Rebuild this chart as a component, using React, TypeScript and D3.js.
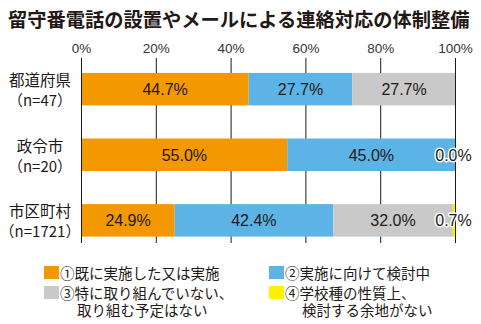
import React from "react";
import * as d3 from "d3";

const title = "留守番電話の設置やメールによる連絡対応の体制整備";
const categories = ["都道府県", "政令市", "市区町村"];
const counts = ["（n=47）", "（n=20）", "（n=1721）"];
const s1 = [44.7, 55.0, 24.9];
const s2 = [27.7, 45.0, 42.4];
const s3 = [27.7, 0, 32.0];
const s4 = [0, 0, 0.7];
const ticks = [0, 20, 40, 60, 80, 100];
const seriesNames = [
  ["①既に実施した又は実施"],
  ["②実施に向けて検討中"],
  ["③特に取り組んでいない、", "取り組む予定はない"],
  ["④学校種の性質上、", "検討する余地がない"],
];
const colors = ["#F39800", "#5BB4E5", "#C9C9C9", "#FFF100"];

const JP = "'Noto Sans CJK JP', sans-serif";
const NUM = "'Liberation Sans', Arial, sans-serif";
const NARROW = "'Liberation Sans Narrow', 'Liberation Sans', sans-serif";

export default function App() {
  const W = 481, H = 324;
  const x = d3.scaleLinear().domain([0, 100]).range([81.5, 455.5]);
  const y = d3.scaleBand().domain(categories).range([56.5, 253]).paddingInner(0.505).paddingOuter(0.25);
  const series = [s1, s2, s3, s4];

  const rows = categories.map((c, i) => {
    let acc = 0;
    const segs = series.map((s, k) => {
      const v = s[i];
      const seg = { k, x0: acc, x1: acc + v, v };
      acc += v;
      return seg;
    });
    return { c, i, segs };
  });

  const gridTop = 58, gridBot = 243;

  const endLabels: { i: number; v: number }[] = [];
  rows.forEach((r) => {
    if (s3[r.i] === 0) endLabels.push({ i: r.i, v: s3[r.i] });
    else if (s4[r.i] > 0) endLabels.push({ i: r.i, v: s4[r.i] });
  });

  return (
    <svg width={W} height={H} style={{ position: "absolute", left: 0, top: 0, background: "#fff" }}>
      <text x={8} y={27} fontFamily={JP} fontWeight={700} fontSize={19.25} fill="#231815">{title}</text>
      {ticks.map((t) => (
        <text key={t} x={x(t)} y={53} textAnchor="middle" fontFamily={NARROW} fontSize={13.5} fill="#333">{t}%</text>
      ))}
      {ticks.map((t) => (
        <line key={"g" + t} x1={x(t)} x2={x(t)} y1={gridTop} y2={gridBot} stroke="#231815" strokeWidth={1} />
      ))}
      {rows.map((r) =>
        r.segs.filter((s) => s.v > 0).map((s) => (
          <rect key={r.c + s.k} x={x(s.x0)} y={y(r.c)!} width={x(s.x1) - x(s.x0)} height={y.bandwidth()} fill={colors[s.k]} />
        ))
      )}
      <line x1={x(0)} x2={x(0)} y1={gridTop} y2={gridBot} stroke="#231815" strokeWidth={1} />
      <line x1={x(100)} x2={x(100)} y1={gridTop} y2={gridBot} stroke="#231815" strokeWidth={1} />
      {rows.map((r) => {
        const cy = y(r.c)! + y.bandwidth() / 2;
        return (
          <g key={"lab" + r.c}>
            <text x={40} y={cy - 3} textAnchor="middle" fontFamily={JP} fontSize={15.5} fill="#231815">{r.c}</text>
            <text x={40} y={cy + 17} textAnchor="middle" fontFamily={JP} fontSize={15} fill="#231815">{counts[r.i]}</text>
            {r.segs.filter((s) => s.k < 3 && s.v > 0).map((s) => (
              <text key={s.k} x={x((s.x0 + s.x1) / 2)} y={cy + 6} textAnchor="middle" fontFamily={NUM} fontSize={16} fill="#231815">{s.v.toFixed(1)}%</text>
            ))}
          </g>
        );
      })}
      {endLabels.map((e) => {
        const cy = y(categories[e.i])! + y.bandwidth() / 2;
        return (
          <text key={"e" + e.i} x={x(100) - 2} y={cy + 6} textAnchor="middle" fontFamily={NUM} fontSize={16} fill="#231815"
            stroke="#fff" strokeWidth={3} paintOrder="stroke" strokeLinejoin="round">{e.v.toFixed(1)}%</text>
        );
      })}
      {seriesNames.map((lines, k) => {
        const col = k % 2, row = Math.floor(k / 2);
        const sx = col === 0 ? 44 : 269;
        const sy = row === 0 ? 266 : 286;
        return (
          <g key={"lg" + k}>
            <rect x={sx} y={sy} width={15} height={13} fill={colors[k]} />
            <text x={sx + 16} y={sy + 12.5} fontFamily={JP} fontSize={14.5} fill="#231815">
              {lines.map((ln, j) => (
                <tspan key={j} x={j === 0 ? sx + 16 : sx + 33} dy={j === 0 ? 0 : 17.5}>{ln}</tspan>
              ))}
            </text>
          </g>
        );
      })}
    </svg>
  );
}
